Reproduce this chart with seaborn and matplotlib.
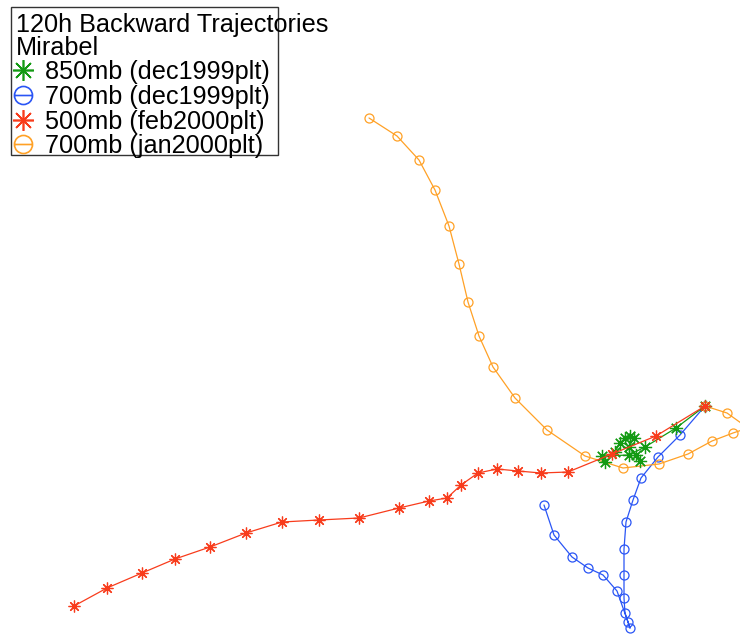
import matplotlib
matplotlib.use("Agg")
import matplotlib.pyplot as plt
from matplotlib.lines import Line2D
from matplotlib.patches import Rectangle
from matplotlib.path import Path
import seaborn as sns

# 120h backward trajectories ending at Mirabel (0, 0); offsets east / north in map units
green_850_dec_x = [0, -29, -60, -76, -103, -100, -90, -85, -80, -75, -71, -76, -65, -69]
green_850_dec_y = [0, -22, -41, -49, -50, -56, -46, -37, -32, -30, -32, -41, -55, -49]

blue_700_dec_x = [0, -25, -47, -64, -72, -79, -81, -81, -81, -80, -75, -77, -88, -102, -117, -133, -151, -161]
blue_700_dec_y = [0, -29, -51, -72, -94, -116, -143, -169, -192, -207, -222, -216, -185, -169, -162, -151, -129, -99]

red_500_feb_x = [0, -49, -93, -137, -164, -187, -208, -227, -244, -258, -276, -306, -346, -386, -423,
                 -459, -495, -530, -563, -598, -631]
red_500_feb_y = [0, -30, -48, -66, -67, -65, -63, -67, -79, -92, -95, -102, -112, -114, -116,
                 -127, -141, -153, -167, -182, -200]

orange_700_jan_x = [0, 22, 43, 28, 7, -17, -46, -82, -120, -158, -190, -212, -226, -237, -246,
                    -256, -270, -286, -308, -336]
orange_700_jan_y = [0, -7, -22, -27, -35, -48, -58, -62, -50, -24, 8, 39, 70, 104, 142,
                    180, 216, 246, 270, 288]

title_lines = ["120h Backward Trajectories", "Mirabel"]
labels = ["850mb (dec1999plt)", "700mb (dec1999plt)", "500mb (feb2000plt)", "700mb (jan2000plt)"]
colors = ["#139a13", "#2a55f5", "#f83c1c", "#ffa126"]

sns.set_theme(style="white")
plt.rcParams['font.family'] = ['Liberation Sans', 'DejaVu Sans']

# circle with a horizontal bar, used for the legend symbols
circ = Path.unit_circle()
bar = Path([[-1, 0], [1, 0]], [Path.MOVETO, Path.LINETO])
theta = Path.make_compound_path(circ, bar)
star = (8, 2, 0)

fig = plt.figure(figsize=(7.4, 6.34), dpi=100)
ax = fig.add_axes([0, 0, 1, 1])

series = [
    (blue_700_dec_x, blue_700_dec_y, colors[1], "o", 6.5),
    (orange_700_jan_x, orange_700_jan_y, colors[3], "o", 6.5),
    (green_850_dec_x, green_850_dec_y, colors[0], star, 9.5),
    (red_500_feb_x, red_500_feb_y, colors[2], star, 8.5),
]
for xs, ys, c, m, ms in series:
    sns.lineplot(x=xs, y=ys, sort=False, estimator=None, ax=ax, color=c, linewidth=0.9,
                 marker=m, markersize=ms, markerfacecolor="none", markeredgecolor=c,
                 markeredgewidth=0.9, legend=False)

ax.set_xlim(-705, 35)
ax.set_ylim(-228, 406)
ax.set_axis_off()

fs = 18.2
handles = [
    Line2D([], [], color=colors[0], marker=star, linestyle="none", markersize=15, markeredgewidth=1.2),
    Line2D([], [], color=colors[1], marker=theta, linestyle="none", markersize=13,
           markerfacecolor="none", markeredgewidth=1.2),
    Line2D([], [], color=colors[2], marker=star, linestyle="none", markersize=15, markeredgewidth=1.2),
    Line2D([], [], color=colors[3], marker=theta, linestyle="none", markersize=13,
           markerfacecolor="none", markeredgewidth=1.2),
]
leg = fig.legend(handles, labels, loc="upper left", bbox_to_anchor=(10 / 740, 1 - 60 / 634),
                 frameon=False, fontsize=fs, handlelength=1.0, handletextpad=0.4,
                 labelspacing=0.03, borderpad=0, borderaxespad=0, labelcolor="black")

fig.text(16 / 740, 1 - 32 / 634, title_lines[0], fontsize=fs, color="black", va="baseline")
fig.text(16 / 740, 1 - 55 / 634, title_lines[1], fontsize=fs, color="black", va="baseline")
fig.patches.append(Rectangle((11 / 740, 1 - 155 / 634), 267 / 740, 148 / 634, transform=fig.transFigure,
                             fill=False, edgecolor="#333333", linewidth=1.0))

fig.savefig("out.png", dpi=100)
